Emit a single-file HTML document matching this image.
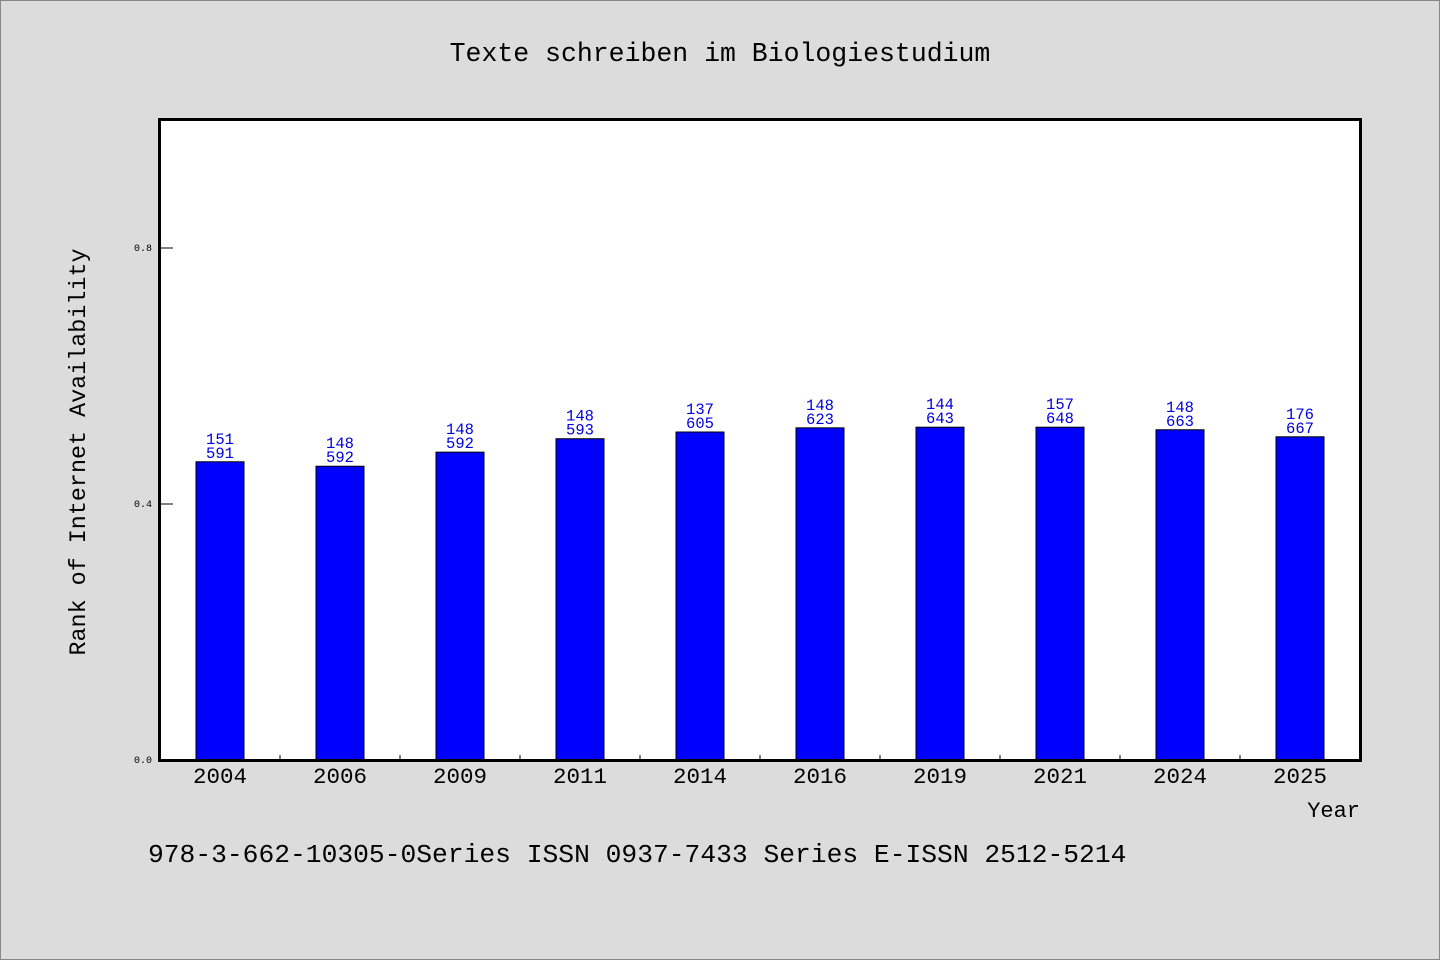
<!DOCTYPE html>
<html><head><meta charset="utf-8"><style>
body{margin:0;background:#dcdcdc;}
svg{display:block;font-family:"Liberation Mono","WenQuanYi Zen Hei",monospace;}
</style></head><body>
<svg id="c" width="1440" height="960">
<rect x="0.5" y="0.5" width="1439" height="959" fill="#dcdcdc" stroke="#888"/>
<text x="720" y="61" font-size="26.5" text-anchor="middle">Texte schreiben im Biologiestudium</text>
<rect x="159.5" y="119.5" width="1201" height="641" fill="#fff"/>
<g id="marks"></g>
<rect x="159.5" y="119.5" width="1201" height="641" fill="none" stroke="#000" stroke-width="3"/>
<text x="1360" y="817" font-size="22" text-anchor="end">Year</text>
<text transform="translate(85,452) rotate(-90)" font-size="23.4" text-anchor="middle">Rank of Internet Availability</text>
<text x="148" y="862" font-size="26.3">978-3-662-10305-0Series ISSN 0937-7433 Series E-ISSN 2512-5214</text>
</svg>
<script>
const categories=["2004","2006","2009","2011","2014","2016","2019","2021","2024","2025"];
const values=[0.466,0.459,0.481,0.502,0.5125,0.519,0.520,0.520,0.516,0.505];
const labelTop=["151","148","148","148","137","148","144","157","148","176"];
const labelBottom=["591","592","592","593","605","623","643","648","663","667"];
const yTicks=[0,0.4,0.8];
const yTickLabels=["0.0","0.4","0.8"];
const L=160,R=1360,T=120,B=760,yMax=1.0;
const ns="http://www.w3.org/2000/svg";
const g=document.getElementById("marks");
const bw=(R-L)/categories.length;
const x=i=>L+bw*(i+0.5);
const y=v=>B-(v/yMax)*(B-T);
function mk(t,a){const e=document.createElementNS(ns,t);for(const k in a)e.setAttribute(k,a[k]);g.appendChild(e);return e;}
yTicks.forEach((v,i)=>{
 const l=mk("line",{x1:L,x2:L+13,y1:y(v),y2:y(v),stroke:"#000","stroke-width":1});
 
 
 const t=mk("text",{x:L-8,y:y(v)+3,"font-size":10,"text-anchor":"end"});
 t.textContent=yTickLabels[i];
 
 
});
categories.forEach((c,i)=>{
 if(i>0){const tk=mk("line",{x1:L+bw*i,x2:L+bw*i,y1:B,y2:B-5,stroke:"#000"});
 
 }
 const bar=mk("rect",{x:x(i)-24,y:y(values[i]),width:48,height:B-y(values[i]),fill:"#0000ff",stroke:"#000","stroke-width":1});
 
 
 const t1=mk("text",{x:x(i),y:y(values[i])-18,"font-size":15.5,fill:"#0000dd","text-anchor":"middle"});
 t1.textContent=labelTop[i];
 
 
 const t2=mk("text",{x:x(i),y:y(values[i])-4,"font-size":15.5,fill:"#0000dd","text-anchor":"middle"});
 t2.textContent=labelBottom[i];
 
 
 const xl=mk("text",{x:x(i),y:B+23,"font-size":22.5,"text-anchor":"middle"});
 xl.textContent=c;
 
 
});
</script>
</body></html>
